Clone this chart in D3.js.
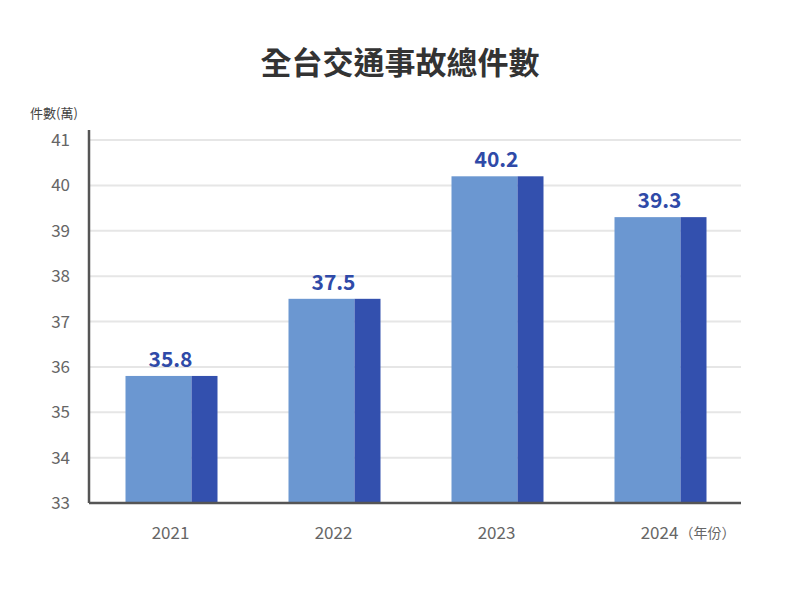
<!DOCTYPE html>
<html>
<head>
<meta charset="utf-8">
<script src="https://cdn.jsdelivr.net/npm/d3@7"></script>
<style>
body { margin: 0; background: #fff; font-family: "Noto Sans CJK TC", "Noto Sans", sans-serif; }
</style>
</head>
<body>
<script>
// data
var years = ["2021", "2022", "2023", "2024"]
var values = [35.8, 37.5, 40.2, 39.3]
var yTicks = [33, 34, 35, 36, 37, 38, 39, 40, 41]

var w = 800
var h = 600
var plotLeft = 89, plotRight = 741, plotTop = 140, plotBottom = 503

var svg = d3.select("body").append("svg")
	.attr("width", w)
	.attr("height", h)

var xScale = d3.scaleBand().domain(years).range([plotLeft, plotRight])
var yScale = d3.scaleLinear().domain([33, 41]).range([plotBottom, plotTop])

// title
svg.append("text")
	.attr("x", 400).attr("y", 74)
	.attr("text-anchor", "middle")
	.attr("font-size", 31).attr("font-weight", "bold")
	.attr("fill", "#333")
	.text("全台交通事故總件數")

svg.append("text")
	.attr("x", 30).attr("y", 118)
	.attr("font-size", 13).attr("fill", "#444")
	.text("件數(萬)")

// gridlines
svg.selectAll("line.grid")
	.data(yTicks.slice(1))
	.enter().append("line")
	.attr("x1", plotLeft).attr("x2", plotRight)
	.attr("y1", function(d) { return yScale(d) })
	.attr("y2", function(d) { return yScale(d) })
	.attr("stroke", "#e6e6e6").attr("stroke-width", 2)

// y tick labels
svg.selectAll("text.ytick")
	.data(yTicks)
	.enter().append("text")
	.attr("x", 70)
	.attr("y", function(d) { return yScale(d) + 6 })
	.attr("text-anchor", "end")
	.attr("font-size", 17).attr("fill", "#666")
	.text(function(d) { return d })

// bars: light front part + dark side
var bw = 92, lw = 66
var bars = svg.selectAll("g.bar")
	.data(values)
	.enter().append("g")

bars.append("rect")
	.attr("x", function(d, i) { return xScale(years[i]) + xScale.bandwidth() / 2 - bw / 2 + 1 })
	.attr("y", function(d) { return yScale(d) })
	.attr("width", lw)
	.attr("height", function(d) { return plotBottom - yScale(d) })
	.attr("fill", "#6b97d1")

bars.append("rect")
	.attr("x", function(d, i) { return xScale(years[i]) + xScale.bandwidth() / 2 - bw / 2 + 1 + lw })
	.attr("y", function(d) { return yScale(d) })
	.attr("width", bw - lw)
	.attr("height", function(d) { return plotBottom - yScale(d) })
	.attr("fill", "#3350ae")

bars.append("text")
	.attr("x", function(d, i) { return xScale(years[i]) + xScale.bandwidth() / 2 })
	.attr("y", function(d) { return yScale(d) - 9 })
	.attr("text-anchor", "middle")
	.attr("font-size", 21).attr("font-weight", "bold")
	.attr("fill", "#2f4aa8")
	.text(function(d) { return d.toFixed(1) })

// axes lines
svg.append("line")
	.attr("x1", plotLeft).attr("x2", plotLeft).attr("y1", plotTop - 10).attr("y2", plotBottom)
	.attr("stroke", "#555").attr("stroke-width", 2.5)
svg.append("line")
	.attr("x1", plotLeft).attr("x2", plotRight).attr("y1", plotBottom).attr("y2", plotBottom)
	.attr("stroke", "#555").attr("stroke-width", 2.5)

// x labels
svg.selectAll("text.xtick")
	.data(years)
	.enter().append("text")
	.attr("x", function(d) { return xScale(d) + xScale.bandwidth() / 2 })
	.attr("y", 539)
	.attr("text-anchor", "middle")
	.attr("font-size", 17).attr("fill", "#666")
	.text(function(d) { return d })

svg.append("text")
	.attr("x", xScale("2024") + xScale.bandwidth() / 2 + 20)
	.attr("y", 538)
	.attr("font-size", 14).attr("fill", "#666")
	.text("（年份）")
</script>
</body>
</html>
